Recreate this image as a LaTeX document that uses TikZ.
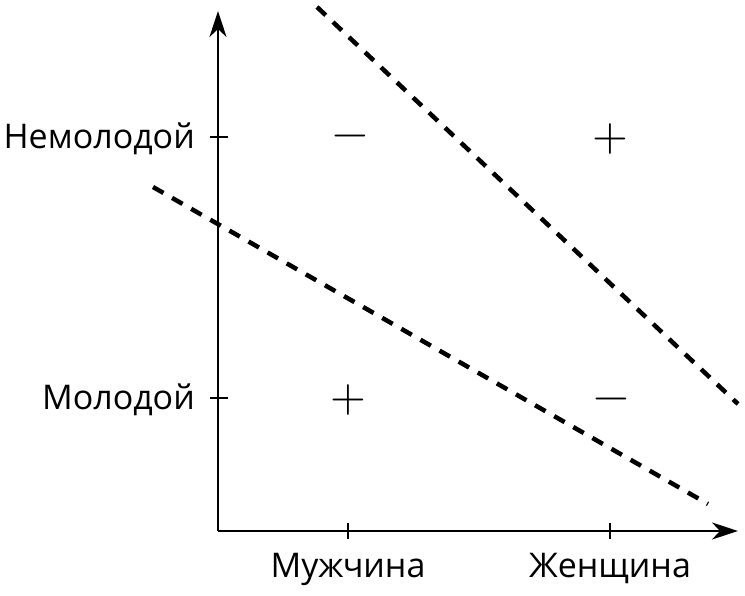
\documentclass[tikz,border=0pt]{standalone}
\usepackage{fontspec}
\setmainfont{Open Sans}
\newfontfamily\signfont{lmroman10-regular}[Extension=.otf]
\usepackage{tikz}
\usetikzlibrary{arrows.meta}
\usetikzlibrary{positioning}

\tikzset{
  axis/.style={line width=2.4pt,-{Stealth[length=26pt,width=17pt,inset=8pt]}},
  tick/.style={line width=1.8pt},
  split/.style={line width=4.5pt,dash pattern=on 12pt off 10pt},
  label/.style={font=\fontsize{34}{34}\selectfont,inner sep=0pt},
  sign/.style={font=\signfont\fontsize{46}{46}\selectfont,inner sep=0pt}
}

\begin{document}
\begin{tikzpicture}[x=1pt,y=-1pt]
    \useasboundingbox (0,0) rectangle (745,596);

    \coordinate (O) at (218,531);
    \coordinate (xend) at (738,531);
    \coordinate (yend) at (218,11);
    \draw [axis] (O) -- (xend);
    \draw [axis] (O) -- (yend);

    \foreach \x/\name in {348/men,610/women}
        \draw [tick] (\x,523) -- (\x,539) coordinate (\name);
    \foreach \y/\name in {137/old,398/young}
        \draw [tick] (228,\y) -- (210,\y) coordinate (\name);

    \node [label,anchor=north] (lmen) at ([yshift=-14pt]men) {Мужчина};
    \node [label,anchor=north] (lwomen) at ([yshift=-14pt]women) {Женщина};
    \node [label,anchor=east] (lold) at ([xshift=-15pt,yshift=-2pt]old) {Немолодой};
    \node [label,anchor=east] (lyoung) at ([xshift=-15pt,yshift=-2pt]young) {Молодой};

    \node [sign] (s11) at (350,141) {−};
    \node [sign] (s21) at (610,139) {+};
    \node [sign] (s12) at (348,400) {+};
    \node [sign] (s22) at (611,404) {−};

    \coordinate (a1) at (317,7);
    \coordinate (a2) at (738,404);
    \coordinate (b1) at (153,187);
    \coordinate (b2) at (708,504);
    \draw [split] (a1) -- (a2);
    \draw [split] (b1) -- (b2);
\end{tikzpicture}
\end{document}
